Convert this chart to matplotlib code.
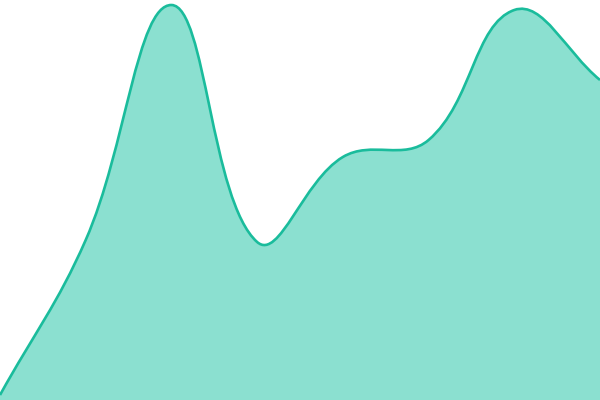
import matplotlib
matplotlib.use("Agg")
import matplotlib.pyplot as plt
from matplotlib.path import Path
from matplotlib.patches import PathPatch
import numpy as np

# one series, eight evenly spaced points
x = [0, 1, 2, 3, 4, 5, 6, 7]
values = [1.25, 40, 98.75, 39.5, 60.75, 65, 97.5, 80]

line_color = '#1abc9c'
fill_color = '#8be0d0'
tension = 0.4

fig = plt.figure(figsize=(6, 4), dpi=100)
ax = fig.add_axes([0, 0, 1, 1])
ax.set_xlim(0, 7)
ax.set_ylim(0, 100)
ax.axis('off')

# bezier control points in pixel space (chart.js style spline)
pts = ax.transData.transform(np.column_stack([x, values]))
n = len(pts)
ctrl_prev = []
ctrl_next = []
for i in range(n):
    prev = pts[i - 1] if i > 0 else pts[i]
    cur = pts[i]
    nxt = pts[i + 1] if i < n - 1 else pts[i]
    d01 = np.hypot(*(cur - prev))
    d12 = np.hypot(*(nxt - cur))
    tot = d01 + d12
    s01 = d01 / tot if tot else 0
    s12 = d12 / tot if tot else 0
    ctrl_prev.append(cur - tension * s01 * (nxt - prev))
    ctrl_next.append(cur + tension * s12 * (nxt - prev))

verts = [pts[0]]
codes = [Path.MOVETO]
for i in range(n - 1):
    verts += [ctrl_next[i], ctrl_prev[i + 1], pts[i + 1]]
    codes += [Path.CURVE4] * 3
inv = ax.transData.inverted()
verts = inv.transform(np.array(verts))

line_path = Path(verts, codes)
fill_verts = np.vstack([verts, [[x[-1], 0], [x[0], 0], verts[0]]])
fill_codes = codes + [Path.LINETO, Path.LINETO, Path.CLOSEPOLY]
fill_path = Path(fill_verts, fill_codes)

ax.add_patch(PathPatch(fill_path, facecolor=fill_color, edgecolor='none'))
ax.add_patch(PathPatch(line_path, facecolor='none', edgecolor=line_color, linewidth=1.9))

fig.savefig('out.png', dpi=100)
